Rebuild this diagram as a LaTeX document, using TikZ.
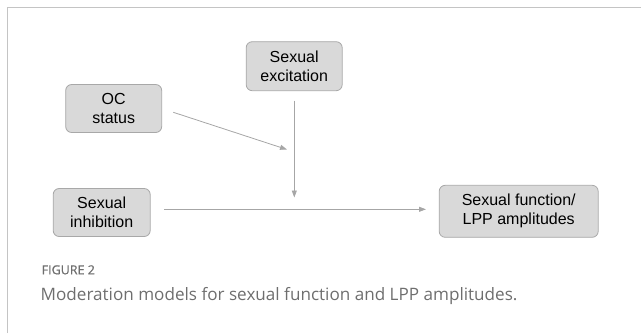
\documentclass[tikz,border=0pt]{standalone}
\usepackage{fontspec}
\setmainfont{Liberation Sans}
\newfontfamily\capfont{Open Sans}
\newfontfamily\capsemifont[FakeBold=0.8]{Open Sans}
\usetikzlibrary{arrows.meta}
\definecolor{boxfill}{HTML}{D9D9D9}
\definecolor{boxline}{HTML}{A8A8A8}
\definecolor{arrowc}{HTML}{A6A6A6}
\definecolor{framec}{HTML}{C4C4C4}
\definecolor{capc}{HTML}{6E6E6E}
\tikzset{
  varbox/.style={draw=boxline, fill=boxfill, rounded corners=6pt, line width=0.8pt,
    align=center, inner sep=0pt, font=\fontsize{16}{19}\selectfont, text=black},
  conn/.style={draw=arrowc, line width=0.8pt, -{Triangle[length=7pt,width=5pt]}}
}
\begin{document}
\begin{tikzpicture}[x=1pt,y=-1pt]
\useasboundingbox (0,0) rectangle (641,333);
\draw[framec, line width=1.6pt] (7.5,333) -- (7.5,7.5) -- (641,7.5);
\node[varbox, minimum width=96pt, minimum height=48pt] (oc) at (113.7,108.5) {OC\\status};
\node[varbox, minimum width=97pt, minimum height=48pt] (inh) at (101.7,212.5) {Sexual\\inhibition};
\node[varbox, minimum width=96pt, minimum height=49pt] (exc) at (294.2,66.2) {Sexual\\excitation};
\node[varbox, minimum width=159pt, minimum height=52pt] (out) at (518.7,211.3) {Sexual function/\\LPP amplitudes};
\coordinate (ocs) at (173.3,112.3);
\coordinate (oce) at (287,149.5);
\coordinate (exs) at (294.3,100.7);
\coordinate (exe) at (294.3,197.5);
\coordinate (ihs) at (164,209.3);
\coordinate (ihe) at (426,209.3);
\draw[conn] (ocs) -- (oce);
\draw[conn] (exs) -- (exe);
\draw[conn] (ihs) -- (ihe);
\node[anchor=base west, inner sep=0pt, text=capc, font=\capsemifont\fontsize{12.5}{14}\selectfont] (fig) at (41.5,274.3) {FIGURE 2};
\node[anchor=base west, inner sep=0pt, text=capc, font=\capfont\fontsize{17.1}{20}\selectfont] (cap) at (40.5,300) {Moderation models for sexual function and LPP amplitudes.};
\end{tikzpicture}
\end{document}
